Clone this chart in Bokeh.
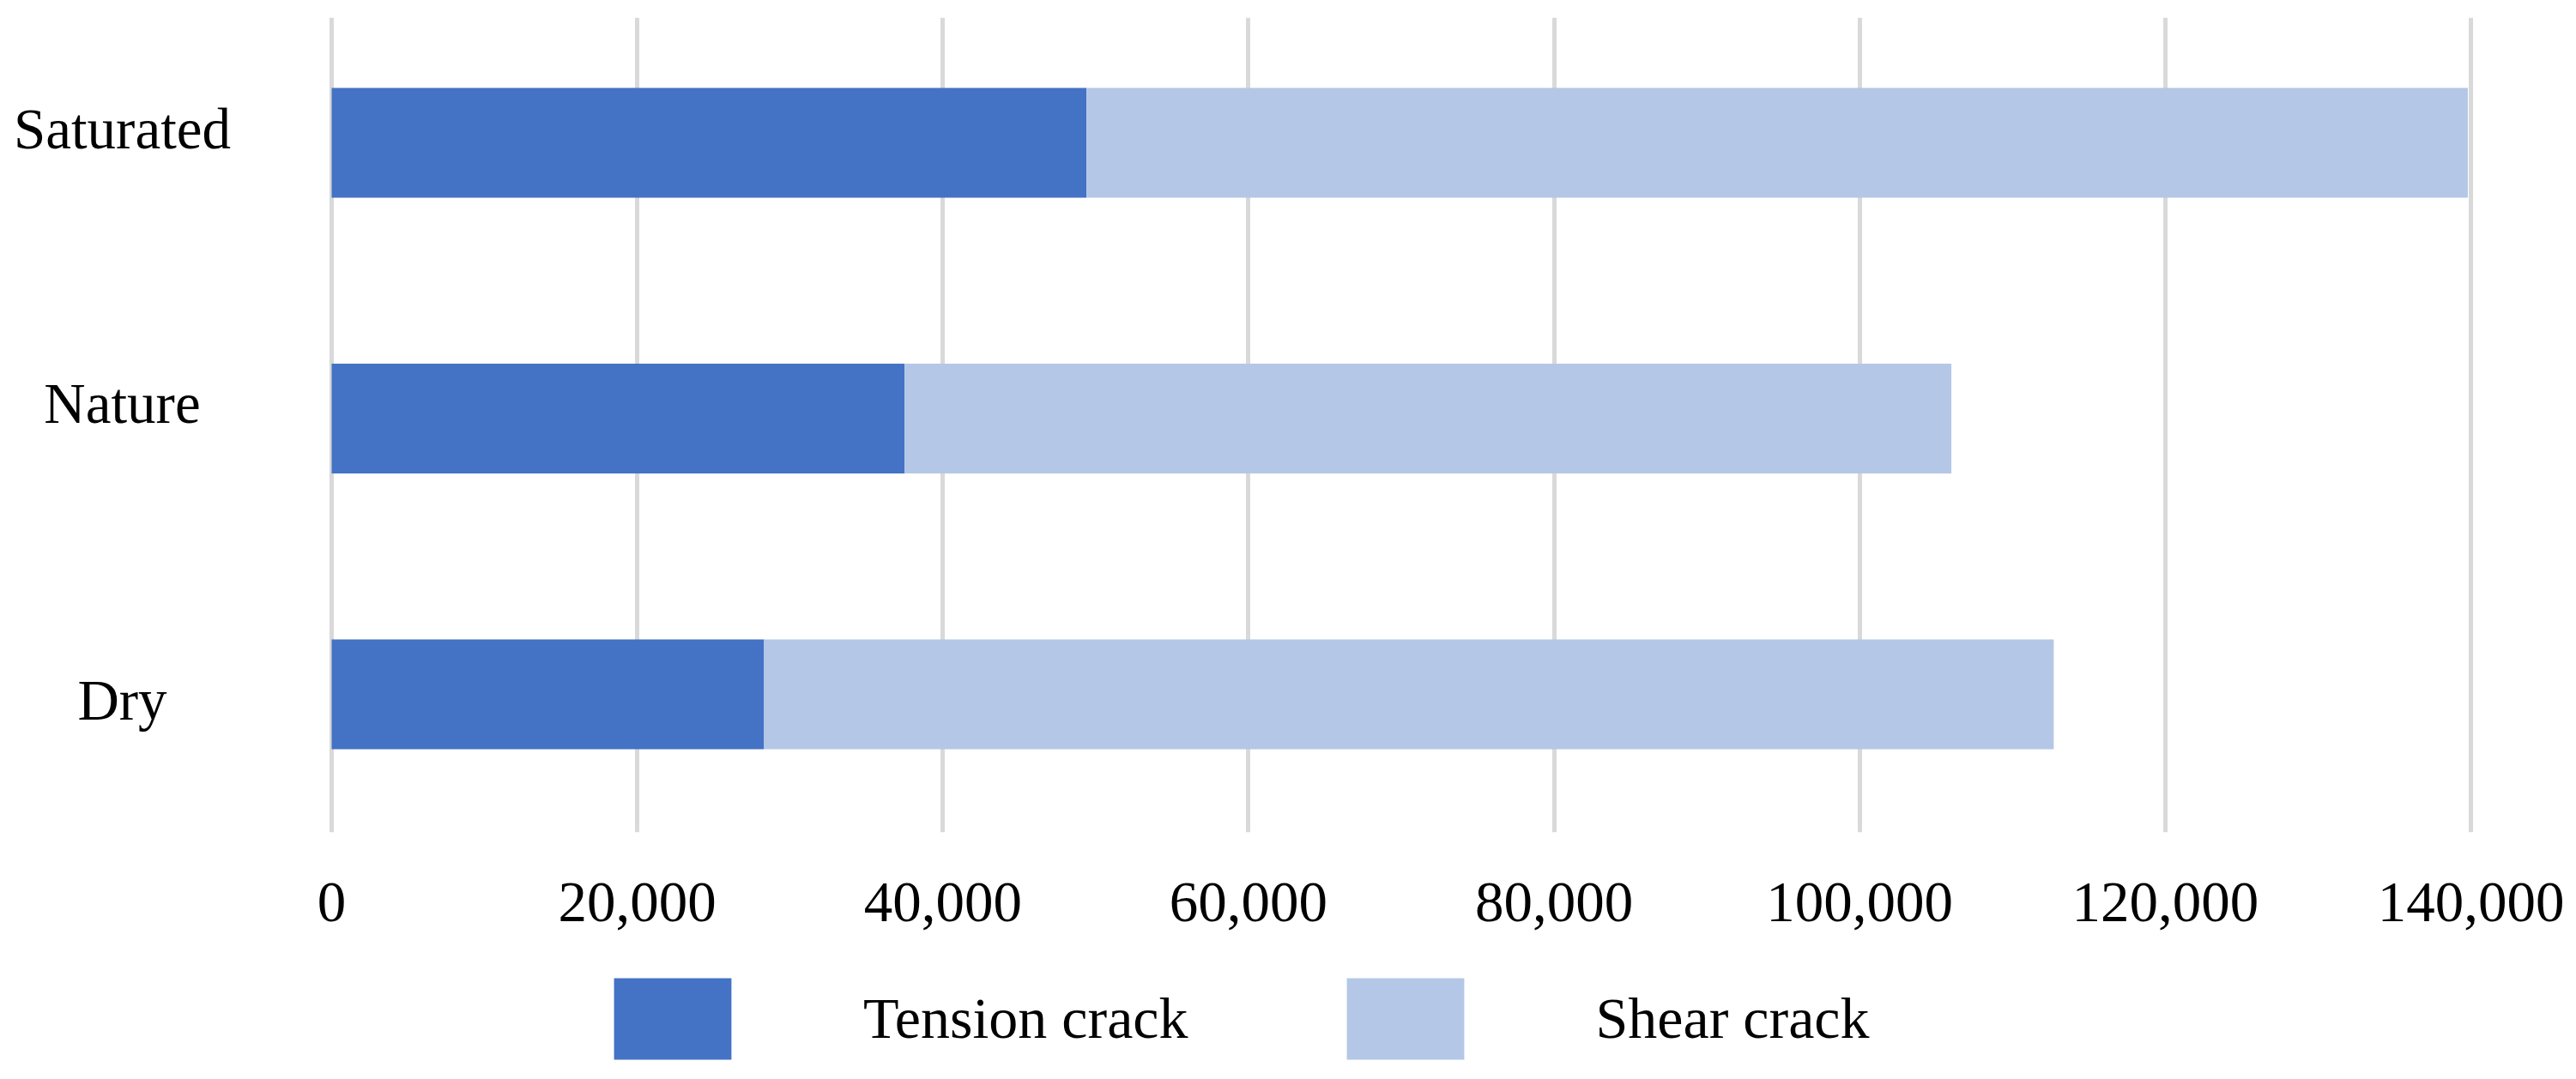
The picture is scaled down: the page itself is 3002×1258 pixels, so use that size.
from bokeh.plotting import figure
from bokeh.layouts import column
from bokeh.models import (ColumnDataSource, Range1d, FixedTicker, NumeralTickFormatter,
                          Legend, LegendItem)
from bokeh.core.properties import value
from bokeh.embed import file_html
from bokeh.resources import INLINE

# ---- data ----
categories = ["Dry", "Nature", "Saturated"]
tension_crack = [28300, 37500, 49400]
shear_crack = [84400, 68500, 90400]
x_ticks = [0, 20000, 40000, 60000, 80000, 100000, 120000, 140000]
series_names = ["Tension crack", "Shear crack"]

# ---- styles / layout ----
COLORS = ["#4472C4", "#B4C7E7"]
FONT = "Liberation Serif"
FS = "67px"
LABEL_X = -13703          # centre of the category labels (left of the 0 gridline)
LABEL_DY = [7, -18, -16]  # small vertical nudges of the category labels (px)

ypos = list(range(len(categories)))
src = ColumnDataSource(dict(y=ypos, cat=categories,
                            tension=tension_crack, shear=shear_crack))
lab_src = ColumnDataSource(dict(y=ypos, cat=categories, dy=LABEL_DY))

# ---- main chart ----
p = figure(width=3002, height=1110, output_backend="svg", toolbar_location=None,
           x_range=Range1d(-21677, 144324), y_range=Range1d(-0.501, 2.454),
           y_axis_location=None,
           min_border_left=0, min_border_right=46, min_border_top=20,
           min_border_bottom=140)
p.outline_line_color = None
p.background_fill_color = "white"
p.border_fill_color = "white"

rs = p.hbar_stack(["tension", "shear"], y="y", height=0.398, color=COLORS,
                  line_color=None, source=src)

p.text(x=LABEL_X, y="y", text="cat", source=lab_src, y_offset="dy",
       text_align="center", text_baseline="middle",
       text_font=value(FONT), text_font_size=FS, text_color="black")

ax = p.xaxis[0]
ax.ticker = FixedTicker(ticks=x_ticks)
ax.formatter = NumeralTickFormatter(format="0,0")
ax.axis_line_color = None
ax.major_tick_line_color = None
ax.major_tick_out = 0
ax.major_tick_in = 0
ax.minor_tick_line_color = None
ax.minor_tick_out = 0
ax.major_label_standoff = 59
ax.major_label_text_font = FONT
ax.major_label_text_font_size = FS
ax.major_label_text_color = "black"

p.xgrid.grid_line_color = "#d9d9d9"
p.xgrid.grid_line_width = 5
p.ygrid.visible = False

# ---- legend strip (same series, same colours; its bars are hidden) ----
q = figure(width=3002, height=148, output_backend="svg", toolbar_location=None,
           x_range=Range1d(0, 1), y_range=Range1d(0, 1),
           x_axis_location=None, y_axis_location=None,
           min_border_left=0, min_border_right=0, min_border_top=0, min_border_bottom=0)
q.outline_line_color = None
q.xgrid.visible = False
q.ygrid.visible = False
leg_r = q.hbar_stack(["tension", "shear"], y="y", height=0.398, color=COLORS,
                     line_color=None, source=src)
for r in leg_r:
    r.visible = False

legend = Legend(items=[LegendItem(label=series_names[i], renderers=[leg_r[i]]) for i in range(2)],
                location=(698, 11), orientation="horizontal", click_policy="none",
                glyph_width=171, glyph_height=119, label_standoff=137, spacing=167,
                padding=0, margin=0, border_line_color=None,
                background_fill_alpha=0,
                label_text_font=FONT, label_text_font_size="68px",
                label_text_color="black")
q.add_layout(legend, "center")

layout = column(p, q, spacing=0)
open("out.html", "w").write(file_html(layout, INLINE))
